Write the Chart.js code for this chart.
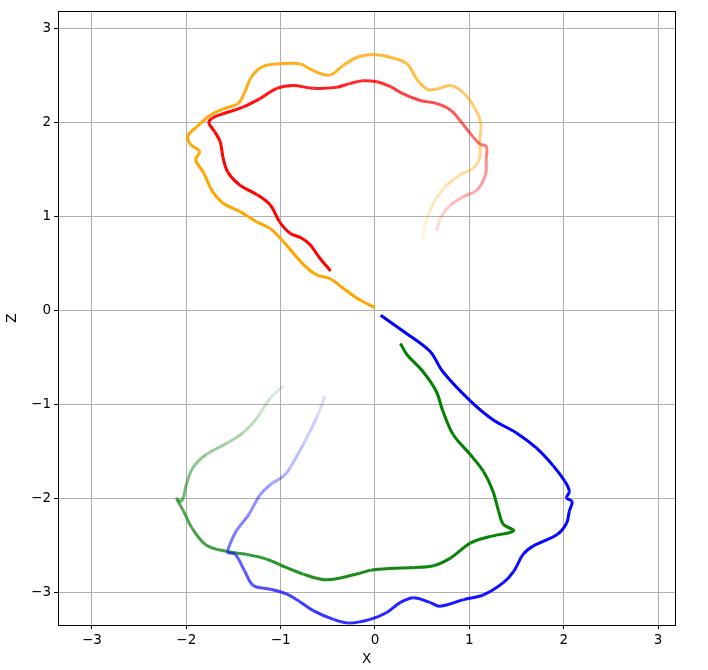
<!DOCTYPE html>
<html>
<head>
<meta charset="utf-8">
<script src="https://cdn.jsdelivr.net/npm/chart.js@4/dist/chart.umd.min.js"></script>
<style>
html,body{margin:0;padding:0;background:#fff;}
#wrap{width:708px;height:670px;}
</style>
</head>
<body>
<div id="wrap"><canvas id="c" width="708" height="670"></canvas></div>
<script>
const xTicks = [-3, -2, -1, 0, 1, 2, 3];
const zTicks = [-3, -2, -1, 0, 1, 2, 3];

const orangeX = [0.00,-0.19,-0.34,-0.48,-0.62,-0.76,-0.97,-1.11,-1.25,-1.43,-1.61,-1.72,-1.82,-1.90,-1.86,-1.96,-1.98,-1.89,-1.75,-1.61,-1.45,-1.38,-1.31,-1.19,-1.01,-0.80,-0.66,-0.48,-0.34,-0.19,-0.02,0.16,0.34,0.44,0.55,0.65,0.80,0.93,1.04,1.12,1.11,1.11,1.04,0.90,0.76,0.65,0.58,0.53,0.51];
const orangeZ = [0.03,0.13,0.24,0.34,0.38,0.49,0.73,0.87,0.94,1.05,1.14,1.26,1.47,1.60,1.69,1.77,1.86,1.95,2.07,2.14,2.20,2.32,2.48,2.59,2.62,2.62,2.55,2.50,2.60,2.69,2.72,2.69,2.62,2.46,2.35,2.35,2.39,2.32,2.18,2.00,1.79,1.62,1.51,1.44,1.33,1.19,1.05,0.91,0.77];

const redX = [-0.47,-0.58,-0.69,-0.78,-0.90,-1.01,-1.11,-1.25,-1.43,-1.56,-1.61,-1.64,-1.70,-1.76,-1.73,-1.61,-1.40,-1.22,-1.04,-0.87,-0.66,-0.41,-0.27,-0.13,0.02,0.16,0.30,0.48,0.65,0.80,0.90,1.01,1.11,1.18,1.18,1.17,1.08,0.94,0.80,0.71,0.65];
const redZ = [0.42,0.55,0.70,0.77,0.82,0.94,1.12,1.23,1.33,1.47,1.62,1.79,1.90,1.99,2.04,2.09,2.16,2.25,2.36,2.39,2.36,2.37,2.41,2.44,2.43,2.38,2.30,2.23,2.20,2.13,2.02,1.88,1.77,1.74,1.62,1.44,1.28,1.21,1.12,1.01,0.85];

const blueX = [0.06,0.30,0.58,0.72,1.01,1.25,1.50,1.71,1.89,2.01,2.06,2.03,2.09,2.06,2.03,1.93,1.68,1.57,1.47,1.36,1.15,0.94,0.69,0.58,0.41,0.27,0.12,-0.05,-0.27,-0.44,-0.65,-0.80,-0.94,-1.11,-1.29,-1.38,-1.48,-1.56,-1.54,-1.47,-1.34,-1.22,-1.11,-0.97,-0.90,-0.76,-0.62,-0.53];
const blueZ = [-0.05,-0.22,-0.43,-0.65,-0.96,-1.16,-1.30,-1.46,-1.65,-1.81,-1.92,-1.99,-2.03,-2.13,-2.26,-2.38,-2.50,-2.59,-2.77,-2.89,-3.02,-3.07,-3.14,-3.10,-3.05,-3.10,-3.21,-3.28,-3.32,-3.28,-3.19,-3.09,-3.01,-2.96,-2.92,-2.77,-2.59,-2.57,-2.49,-2.34,-2.17,-1.96,-1.85,-1.76,-1.67,-1.42,-1.14,-0.91];

const greenX = [0.27,0.34,0.51,0.65,0.72,0.83,1.01,1.15,1.25,1.31,1.36,1.47,1.22,1.01,0.80,0.62,0.41,0.16,-0.05,-0.16,-0.51,-0.76,-1.01,-1.15,-1.36,-1.57,-1.79,-1.94,-2.03,-2.10,-2.06,-2.03,-2.00,-1.93,-1.79,-1.57,-1.40,-1.25,-1.11,-0.97];
const greenZ = [-0.35,-0.47,-0.65,-0.86,-1.07,-1.32,-1.53,-1.71,-1.92,-2.13,-2.27,-2.34,-2.40,-2.47,-2.63,-2.71,-2.73,-2.74,-2.76,-2.79,-2.86,-2.80,-2.70,-2.64,-2.59,-2.56,-2.49,-2.31,-2.13,-2.00,-2.03,-1.98,-1.85,-1.67,-1.53,-1.41,-1.30,-1.14,-0.93,-0.80];

function pts(xs, zs){ return xs.map((x,i)=>({x:x, y:zs[i]})); }
function fadeColor(rgb, n){
  return ctx => {
    const t = ctx.p0DataIndex / Math.max(1, n - 2);
    const a = 1 - 0.85 * Math.pow(Math.min(1,t), 3);
    return 'rgba(' + rgb + ',' + a.toFixed(3) + ')';
  };
}
function ds(label, xs, zs, rgb){
  return {
    label: label,
    data: pts(xs, zs),
    showLine: true,
    borderWidth: 3,
    borderColor: 'rgb(' + rgb + ')',
    pointRadius: 0,
    pointHoverRadius: 0,
    tension: 0.35,
    borderCapStyle: 'butt',
    borderJoinStyle: 'round',
    segment: { borderColor: fadeColor(rgb, xs.length) }
  };
}

const frame = {
  id: 'frame',
  afterDraw(chart){
    const a = chart.chartArea, c = chart.ctx;
    c.save();
    c.strokeStyle = '#000';
    c.lineWidth = 1;
    c.strokeRect(Math.round(a.left)+0.5, Math.round(a.top)+0.5, Math.round(a.right-a.left), Math.round(a.bottom-a.top));
    c.restore();
  }
};

const font = { family: 'DejaVu Sans', size: 13.5 };

new Chart(document.getElementById('c'), {
  type: 'scatter',
  data: {
    datasets: [
      ds('blue', blueX, blueZ, '0,0,255'),
      ds('green', greenX, greenZ, '0,128,0'),
      ds('red', redX, redZ, '255,0,0'),
      ds('orange', orangeX, orangeZ, '255,165,0')
    ]
  },
  options: {
    responsive: false,
    animation: false,
    events: [],
    layout: { padding: { left: 0, right: 33, top: 9, bottom: 0 } },
    plugins: { legend: { display: false }, tooltip: { enabled: false } },
    scales: {
      x: {
        type: 'linear',
        min: -3.36, max: 3.18,
        afterBuildTicks: s => { s.ticks = xTicks.map(v => ({ value: v })); },
        afterFit: s => { s.height = 45; },
        grid: { color: '#b0b0b0', lineWidth: 1, tickColor: '#000', tickLength: 4 },
        border: { color: '#000', width: 1 },
        ticks: { color: '#000', font: font, padding: 3, maxRotation: 0,
                 callback: v => (v < 0 ? '\u2212' + Math.abs(v) : String(v)) },
        title: { display: true, text: 'X', color: '#000', font: font, padding: { top: 0, bottom: 2 } }
      },
      y: {
        type: 'linear',
        min: -3.34, max: 3.18,
        afterBuildTicks: s => { s.ticks = zTicks.map(v => ({ value: v })); },
        afterFit: s => { s.width = 58; },
        grid: { color: '#b0b0b0', lineWidth: 1, tickColor: '#000', tickLength: 4 },
        border: { color: '#000', width: 1 },
        ticks: { color: '#000', font: font, padding: 3,
                 callback: v => (v < 0 ? '\u2212' + Math.abs(v) : String(v)) },
        title: { display: true, text: 'Z', color: '#000', font: font, padding: { top: 4, bottom: 0 } }
      }
    }
  },
  plugins: [frame]
});
</script>
</body>
</html>
